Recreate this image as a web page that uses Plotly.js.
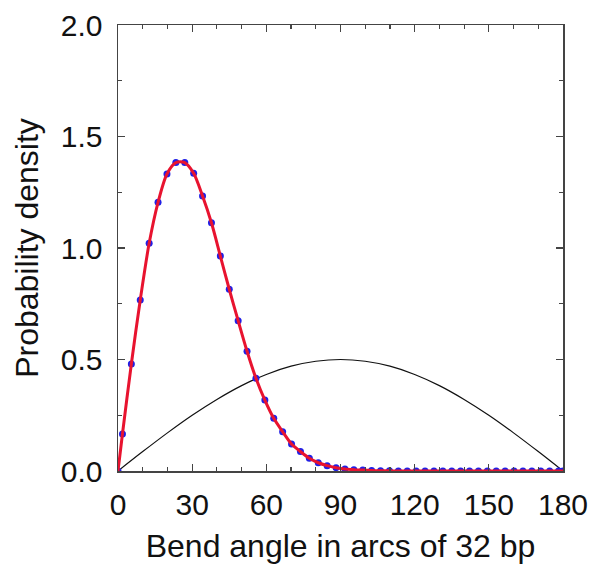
<!DOCTYPE html>
<html>
<head>
<meta charset="utf-8">
<script src="https://cdn.plot.ly/plotly-3.0.1.min.js"></script>
<style>html,body{margin:0;padding:0;background:#fff;}#chart{width:592px;height:564px;}</style>
</head>
<body>
<div id="chart"></div>
<script>
// Bend angle (degrees) of the simulated distribution (bin centres, plus end points)
var angles = [0, 1.8, 5.4, 9.0, 12.6, 16.2, 19.8, 23.4, 27.0, 30.6, 34.2, 37.8, 41.4, 45.0, 48.6, 52.2, 55.8,
  59.4, 63.0, 66.6, 70.2, 73.8, 77.4, 81.0, 84.6, 88.2, 91.8, 95.4, 99.0, 102.6, 106.2, 109.8, 113.4,
  117.0, 120.6, 124.2, 127.8, 131.4, 135.0, 138.6, 142.2, 145.8, 149.4, 153.0, 156.6, 160.2, 163.8,
  167.4, 171.0, 174.6, 178.2, 180];
// Probability density of the simulated bend angles
var density = [0, 0.166, 0.480, 0.767, 1.021, 1.205, 1.332, 1.383, 1.383, 1.335, 1.233, 1.113, 0.964, 0.815, 0.674, 0.537, 0.416,
  0.318, 0.236, 0.176, 0.121, 0.087, 0.057, 0.037, 0.024, 0.015, 0.009, 0.006, 0.004, 0.002, 0.001, 0.001, 0,
  0, 0, 0, 0, 0, 0, 0, 0, 0, 0, 0, 0, 0, 0,
  0, 0, 0, 0, 0];
// Random (isotropic) reference distribution
var refAngles = [0, 10, 20, 30, 40, 50, 60, 70, 80, 90, 100, 110, 120, 130, 140, 150, 160, 170, 180];
var refDensity = [0, 0.087, 0.171, 0.250, 0.321, 0.383, 0.433, 0.470, 0.492, 0.500, 0.492, 0.470, 0.433, 0.383, 0.321, 0.250, 0.171, 0.087, 0];
// Tick labels
var xTicks = [0, 30, 60, 90, 120, 150, 180];
var yTicks = [0, 0.5, 1.0, 1.5, 2.0];
var yTickText = ['0.0', '0.5', '1.0', '1.5', '2.0'];

var font = 'Liberation Sans, Arial, sans-serif';
var axisCommon = {
  showgrid: false, zeroline: false, showline: true, linecolor: '#444', linewidth: 1.5,
  mirror: 'ticks', ticks: 'inside', ticklen: 7, tickwidth: 1.3, tickcolor: '#444',
  tickfont: {family: font, size: 30, color: '#111'}
};

var traces = [
  {x: refAngles, y: refDensity, type: 'scatter', mode: 'lines', line: {color: '#111', width: 1.2, shape: 'spline'}, hoverinfo: 'skip'},
  {x: angles, y: density, type: 'scatter', mode: 'markers', marker: {color: '#1f1fe6', size: 7}},
  {x: angles, y: density, type: 'scatter', mode: 'lines', line: {color: '#e8132f', width: 3, shape: 'spline', smoothing: 0.8}}
];

var layout = {
  width: 592, height: 564,
  margin: {l: 118, r: 29, t: 25, b: 93},
  paper_bgcolor: '#fff', plot_bgcolor: '#fff',
  showlegend: false,
  xaxis: Object.assign({}, axisCommon, {
    range: [0, 180], tickvals: xTicks, ticktext: xTicks.map(String), ticklabelstandoff: 6,
    minor: {dtick: 10, tick0: 0, ticks: 'inside', ticklen: 4, tickwidth: 1.2, tickcolor: '#444'},
    title: {text: 'Bend angle in arcs of 32 bp', font: {family: font, size: 32, color: '#111'}, standoff: 16}
  }),
  yaxis: Object.assign({}, axisCommon, {
    range: [0, 2.0], tickvals: yTicks, ticktext: yTickText, ticklabelstandoff: 8,
    minor: {dtick: 0.25, tick0: 0, ticks: 'inside', ticklen: 4, tickwidth: 1.2, tickcolor: '#444'},
    title: {text: 'Probability density', font: {family: font, size: 32, color: '#111'}, standoff: 12}
  })
};

Plotly.newPlot('chart', traces, layout, {staticPlot: true, displayModeBar: false});
</script>
</body>
</html>
